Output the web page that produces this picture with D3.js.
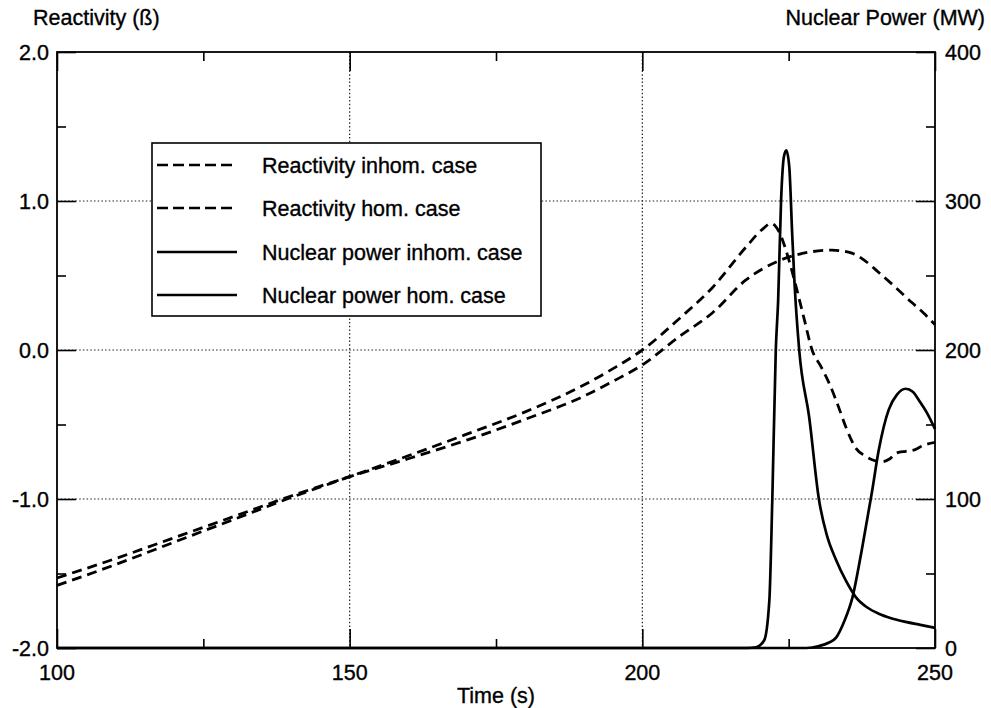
<!DOCTYPE html>
<html>
<head>
<meta charset="utf-8">
<script src="https://cdn.jsdelivr.net/npm/d3@7"></script>
<style>
  html, body { margin: 0; padding: 0; background: #fff; }
  svg { display: block; font-family: "Liberation Sans", Arial, Helvetica, sans-serif; }
</style>
</head>
<body>
<svg id="chart" width="991" height="708"></svg>
<script>
// ---------------- data ----------------
const timeDomain = [100, 250];
const reactDomain = [-2, 2];
const powerDomain = [0, 400];

const xTickValues = [100, 150, 200, 250];
const xTickLabels = ["100", "150", "200", "250"];
const xMinorTicks = [125, 175, 225];
const reactTickValues = [-2, -1, 0, 1, 2];
const reactTickLabels = ["-2.0", "-1.0", "0.0", "1.0", "2.0"];
const reactMinorTicks = [-1.5, -0.5, 0.5, 1.5];
const powerTickValues = [0, 100, 200, 300, 400];
const powerTickLabels = ["0", "100", "200", "300", "400"];
const powerMinorTicks = [50, 150, 250, 350];

const seriesNames = ["Reactivity inhom. case", "Reactivity hom. case", "Nuclear power inhom. case", "Nuclear power hom. case"];

// Reactivity, inhomogeneous case (β)
const tReactInhom = [100, 110, 120, 130, 140, 150, 160, 170, 180, 190, 195, 200, 206.3, 212, 217.7, 220.5, 222, 223.4, 225, 226.3, 227.7, 229, 230.5, 232, 233.5, 234.8, 236.5, 238, 239.5, 241, 242.3, 243.5, 245, 246.5, 248, 250];
const reactInhom  = [-1.58, -1.44, -1.29, -1.14, -0.99, -0.85, -0.71, -0.565, -0.415, -0.235, -0.125, 0.0, 0.21, 0.42, 0.69, 0.81, 0.85, 0.79, 0.61, 0.42, 0.2, 0.0, -0.11, -0.23, -0.38, -0.52, -0.66, -0.71, -0.74, -0.75, -0.73, -0.69, -0.68, -0.67, -0.64, -0.62];

// Reactivity, homogeneous case (β)
const tReactHom = [100, 110, 120, 130, 140, 150, 160, 170, 180, 190, 195, 200, 206.3, 212, 217.7, 223.4, 229, 232.4, 235.8, 238, 240.4, 243, 246, 248, 250];
const reactHom  = [-1.53, -1.4, -1.26, -1.12, -0.98, -0.85, -0.73, -0.605, -0.465, -0.31, -0.21, -0.1, 0.09, 0.25, 0.47, 0.6, 0.66, 0.67, 0.65, 0.6, 0.52, 0.43, 0.32, 0.25, 0.17];

// Nuclear power, inhomogeneous case (MW)
const tPowerInhom = [100, 150, 200, 218, 219.4, 220.8, 221.7, 222.2, 222.8, 223.2, 223.7, 224.2, 224.6, 225.1, 225.6, 226, 226.8, 228.5, 230.2, 231.5, 233.1, 234.8, 236.5, 238.5, 240.4, 242.5, 245, 247.5, 250];
const powerInhom  = [0, 0, 0, 0, 0.5, 5, 32, 99, 200, 233, 300, 330, 334, 323, 278, 245, 200, 155, 99, 76, 59, 45, 34, 27, 23, 20, 17.5, 15.5, 13.5];

// Nuclear power, homogeneous case (MW)
const tPowerHom = [100, 150, 200, 228, 230.2, 231.8, 233.1, 234.5, 235.9, 237.5, 239.2, 240.4, 242.1, 243.5, 245, 246.2, 247.3, 248.6, 250];
const powerHom  = [0, 0, 0, 0, 1.3, 3.5, 7, 18, 34, 66, 104, 133, 160, 170, 174, 172, 166, 158, 147];

// ---------------- layout ----------------
const svg = d3.select("#chart");
const L = 57, T = 52, R = 935, B = 648;

const x = d3.scaleLinear().domain(timeDomain).range([L, R]);
const yR = d3.scaleLinear().domain(reactDomain).range([B, T]);
const yP = d3.scaleLinear().domain(powerDomain).range([B, T]);

const FONT = 21.5;
const gridStyle = g => g.attr("stroke", "#222").attr("stroke-width", 1.2).attr("stroke-dasharray", "1.5,2.2");

// gridlines
const grid = svg.append("g");
xTickValues.slice(1, -1).forEach(v => {
  grid.append("line").attr("x1", x(v)).attr("x2", x(v)).attr("y1", T).attr("y2", B).call(gridStyle);
});
reactTickValues.slice(1, -1).forEach(v => {
  grid.append("line").attr("x1", L).attr("x2", R).attr("y1", yR(v)).attr("y2", yR(v)).call(gridStyle);
});

// axes (inward ticks) using d3 axes
const MAJ = 19, MIN = 9;
function styleAxis(g) {
  g.select(".domain").remove();
  g.selectAll(".tick line").attr("stroke", "#000").attr("stroke-width", 1.6);
  g.selectAll(".tick text").remove();
}
svg.append("g").attr("transform", `translate(0,${B})`)
  .call(d3.axisBottom(x).tickValues(xTickValues).tickSize(-MAJ)).call(styleAxis);
svg.append("g").attr("transform", `translate(0,${B})`)
  .call(d3.axisBottom(x).tickValues(xMinorTicks).tickSize(-MIN)).call(styleAxis);
svg.append("g").attr("transform", `translate(0,${T})`)
  .call(d3.axisTop(x).tickValues(xTickValues).tickSize(-MAJ)).call(styleAxis);
svg.append("g").attr("transform", `translate(0,${T})`)
  .call(d3.axisTop(x).tickValues(xMinorTicks).tickSize(-MIN)).call(styleAxis);
svg.append("g").attr("transform", `translate(${L},0)`)
  .call(d3.axisLeft(yR).tickValues(reactTickValues).tickSize(-MAJ)).call(styleAxis);
svg.append("g").attr("transform", `translate(${L},0)`)
  .call(d3.axisLeft(yR).tickValues(reactMinorTicks).tickSize(-MIN)).call(styleAxis);
svg.append("g").attr("transform", `translate(${R},0)`)
  .call(d3.axisRight(yP).tickValues(powerTickValues).tickSize(-MAJ)).call(styleAxis);
svg.append("g").attr("transform", `translate(${R},0)`)
  .call(d3.axisRight(yP).tickValues(powerMinorTicks).tickSize(-MIN)).call(styleAxis);

// frame
svg.append("rect").attr("x", L).attr("y", T).attr("width", R - L).attr("height", B - T)
  .attr("fill", "none").attr("stroke", "#000").attr("stroke-width", 1.8);

// tick labels
const lab = svg.append("g").attr("font-size", FONT).attr("fill", "#000")
  .attr("stroke", "#000").attr("stroke-width", 0.35);
xTickValues.forEach((v, i) => {
  lab.append("text").attr("x", x(v)).attr("y", 680).attr("text-anchor", "middle").text(xTickLabels[i]);
});
reactTickValues.forEach((v, i) => {
  lab.append("text").attr("x", 49).attr("y", yR(v)).attr("dy", "0.35em").attr("text-anchor", "end").text(reactTickLabels[i]);
});
powerTickValues.forEach((v, i) => {
  lab.append("text").attr("x", 945).attr("y", yP(v)).attr("dy", "0.35em").attr("text-anchor", "start").text(powerTickLabels[i]);
});

// axis titles
lab.append("text").attr("x", 33).attr("y", 25).text("Reactivity (ß)");
lab.append("text").attr("x", 985).attr("y", 25).attr("text-anchor", "end").text("Nuclear Power (MW)");
lab.append("text").attr("x", (L + R) / 2).attr("y", 703).attr("text-anchor", "middle").text("Time (s)");

// curves
const lineR = d3.line().x(d => x(d[0])).y(d => yR(d[1])).curve(d3.curveMonotoneX);
const lineP = d3.line().x(d => x(d[0])).y(d => yP(d[1])).curve(d3.curveMonotoneX);
const DASH = "10,6";
const plot = svg.append("g");
plot.append("path").datum(d3.zip(tReactInhom, reactInhom)).attr("d", lineR)
  .attr("fill", "none").attr("stroke", "#000").attr("stroke-width", 2.8).attr("stroke-dasharray", DASH);
plot.append("path").datum(d3.zip(tReactHom, reactHom)).attr("d", lineR)
  .attr("fill", "none").attr("stroke", "#000").attr("stroke-width", 2.8).attr("stroke-dasharray", DASH);
plot.append("path").datum(d3.zip(tPowerInhom, powerInhom)).attr("d", lineP)
  .attr("fill", "none").attr("stroke", "#000").attr("stroke-width", 2.7);
plot.append("path").datum(d3.zip(tPowerHom, powerHom)).attr("d", lineP)
  .attr("fill", "none").attr("stroke", "#000").attr("stroke-width", 2.7);

// legend
const leg = svg.append("g");
leg.append("rect").attr("x", 152).attr("y", 143).attr("width", 389).attr("height", 173)
  .attr("fill", "#fff").attr("stroke", "#000").attr("stroke-width", 1.6);
const rowsY = [165, 208, 252, 295];
const dashes = [DASH, DASH, null, null];
seriesNames.forEach((name, i) => {
  const ln = leg.append("line").attr("x1", 157).attr("x2", 237).attr("y1", rowsY[i]).attr("y2", rowsY[i])
    .attr("stroke", "#000").attr("stroke-width", 2.4);
  if (dashes[i]) ln.attr("stroke-dasharray", "11,5");
  leg.append("text").attr("x", 262).attr("y", rowsY[i]).attr("dy", "0.35em")
    .attr("font-size", FONT).attr("fill", "#000").attr("stroke", "#000").attr("stroke-width", 0.35).text(name);
});
</script>
</body>
</html>
